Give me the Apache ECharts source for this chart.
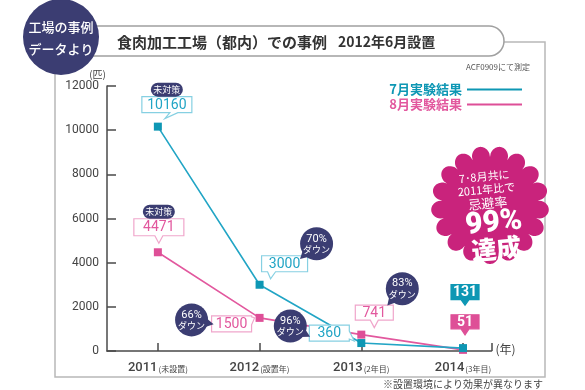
<!DOCTYPE html>
<html><head><meta charset="utf-8">
<script src="https://cdn.jsdelivr.net/npm/echarts@6/dist/echarts.min.js"></script>
<style>html,body{margin:0;padding:0;background:#fff}#c{width:585px;height:390px}</style>
</head><body><div id="c"></div>
<script>
// ---- data ----
const years = [2011, 2012, 2013, 2014];
const yearNotes = ['(未設置)', '(設置年)', '(2年目)', '(3年目)'];
const seriesNames = ['7月実験結果', '8月実験結果'];
const julyValues = [10160, 3000, 360, 131];
const augValues = [4471, 1500, 741, 51];
const julyReduction = [null, '70%', '96%', null];
const augReduction = [null, '66%', '83%', null];
const baselineTag = '未対策';
const yTicks = [0, 2000, 4000, 6000, 8000, 10000, 12000];

// ---- styles ----
const TEAL = '#22a5c5', TEAL_MK = '#0e97b4', TEAL_LT = '#86d0e2';
const PINK = '#e2589e', PINK_MK = '#de4f97', PINK_LT = '#f0a6cb';
const NAVY = '#3b3d72';
const JP = '"Noto Sans CJK JP", "Noto Sans", sans-serif';
const NUM = 'Roboto, "Noto Sans", sans-serif';

const chart = echarts.init(document.getElementById('c'), null, {renderer: 'canvas'});

const axisLineStyle = {color: '#4a4a4a', width: 1.5};
const option = {
  animation: false,
  grid: {left: 107, right: 93.5, top: 86, bottom: 39},
  legend: {
    orient: 'vertical', right: 58, top: 78, align: 'right', itemGap: 2,
    icon: 'rect', itemWidth: 55, itemHeight: 2,
    textStyle: {fontFamily: JP, fontSize: 13, fontWeight: 'bold'},
    data: [
      {name: seriesNames[0], textStyle: {color: TEAL_MK}},
      {name: seriesNames[1], textStyle: {color: PINK}}
    ]
  },
  xAxis: {
    type: 'value', min: 2010.5, max: 2014.28,
    axisLine: {show: true, lineStyle: axisLineStyle},
    axisTick: {show: true, inside: true, length: 8, lineStyle: axisLineStyle, customValues: years.concat([2014.28])},
    splitLine: {show: false},
    axisLabel: {
      customValues: years, margin: 10,
      formatter: v => '{a|' + v + '}{b|' + yearNotes[years.indexOf(v)] + '}',
      rich: {
        a: {fontFamily: NUM, fontSize: 13, color: '#444', fontWeight: 500},
        b: {fontFamily: JP, fontSize: 8, color: '#444', padding: [2, 0, 0, 1]}
      }
    }
  },
  yAxis: {
    type: 'value', min: yTicks[0], max: yTicks[yTicks.length - 1], interval: 2000,
    axisLine: {show: true, lineStyle: axisLineStyle},
    axisTick: {show: true, inside: true, length: 9, lineStyle: axisLineStyle},
    splitLine: {show: false},
    axisLabel: {fontFamily: NUM, fontSize: 12, color: '#444', margin: 8, formatter: v => String(v)}
  },
  series: [
    {
      name: seriesNames[1], type: 'line', symbol: 'rect', symbolSize: 8,
      lineStyle: {color: PINK, width: 1.6}, itemStyle: {color: PINK_MK},
      data: years.map((y, i) => [y, augValues[i]]), z: 3
    },
    {
      name: seriesNames[0], type: 'line', symbol: 'rect', symbolSize: 8,
      lineStyle: {color: TEAL, width: 1.6}, itemStyle: {color: TEAL_MK},
      data: years.map((y, i) => [y, julyValues[i]]), z: 4
    }
  ]
};
chart.setOption(option);

// ---- annotations placed relative to data points ----
function px(x, y) { return chart.convertToPixel({gridIndex: 0}, [x, y]); }

const julyCallouts = [
  {dx: 9, dy: -22, w: 50, h: 16, side: 'bottom', bx: 7, tip: [7, -8]},
  {dx: 25, dy: -21, w: 46, h: 16, side: 'bottom', bx: -13, tip: [11, -6]},
  {dx: -32, dy: -10, w: 40, h: 16, side: 'right', bx: 2, tip: [-7, -2]},
  {dx: 2, dy: -56, w: 28, h: 15, side: 'bottom', bx: 0, tip: [2, -43], filled: true}
];
const augCallouts = [
  {dx: 1, dy: -25, w: 50, h: 17, side: 'bottom', bx: 0, tip: [1, -9]},
  {dx: -28, dy: 6, w: 40, h: 16, side: 'right', bx: -3, tip: [-5, 0]},
  {dx: 13, dy: -22, w: 38, h: 15, side: 'bottom', bx: 0, tip: [13, -7]},
  {dx: 2, dy: -28, w: 28, h: 14, side: 'bottom', bx: 0, tip: [2, -15], filled: true}
];
const julyBadges = [null, {dx: 57, dy: -41, ang: 2.4}, {dx: -71, dy: -17, ang: 0.5}, null];
const augBadges = [null, {dx: -68, dy: 2, ang: 0.2}, {dx: 41, dy: -46, ang: 2.3}, null];

function calloutPoints(cx, cy, w, h, side, b, tx, ty) {
  const x0 = cx - w / 2, x1 = cx + w / 2, y0 = cy - h / 2, y1 = cy + h / 2;
  const hw = 4;
  if (side === 'bottom') {
    const bx = cx + b;
    return [[x0, y0], [x1, y0], [x1, y1], [bx + hw, y1], [tx, ty], [bx - hw, y1], [x0, y1]];
  }
  const by = cy + b;
  return [[x0, y0], [x1, y0], [x1, by - hw], [tx, ty], [x1, by + hw], [x1, y1], [x0, y1]];
}

const g = [];
function addSeries(values, callouts, badges, reductions, col, light, mk) {
  values.forEach((v, i) => {
    const p = px(years[i], v);
    const c = callouts[i];
    const cx = p[0] + c.dx, cy = p[1] + c.dy;
    g.push({
      type: 'polygon', z: 50,
      shape: {points: calloutPoints(cx, cy, c.w, c.h, c.side, c.bx, p[0] + c.tip[0], p[1] + c.tip[1])},
      style: {fill: c.filled ? mk : '#fff', stroke: c.filled ? mk : light, lineWidth: 1.2}
    });
    g.push({
      type: 'text', z: 51, x: cx, y: cy + 0.5,
      style: {text: String(v), fill: c.filled ? '#fff' : col, font: `${c.filled ? 'bold ' : ''}14px ${NUM}`,
              align: 'center', verticalAlign: 'middle'}
    });
    if (i === 0) {
      g.push({
        type: 'rect', z: 52,
        shape: {x: cx - 16, y: cy - c.h / 2 - 14, width: 32, height: 14, r: 7},
        style: {fill: NAVY}
      });
      g.push({
        type: 'text', z: 53, x: cx, y: cy - c.h / 2 - 7,
        style: {text: baselineTag, fill: '#fff', font: `9px ${JP}`, align: 'center', verticalAlign: 'middle'}
      });
    }
    const bd = badges[i];
    if (bd) {
      const bx = p[0] + bd.dx, by = p[1] + bd.dy, r = 16.5;
      const a = bd.ang;
      const tx = bx + Math.cos(a) * (r + 6), ty = by + Math.sin(a) * (r + 6);
      const a1 = a - 0.35, a2 = a + 0.35;
      g.push({
        type: 'polygon', z: 54,
        shape: {points: [[bx + Math.cos(a1) * (r - 2), by + Math.sin(a1) * (r - 2)], [tx, ty], [bx + Math.cos(a2) * (r - 2), by + Math.sin(a2) * (r - 2)]]},
        style: {fill: NAVY}
      });
      g.push({type: 'circle', z: 54, shape: {cx: bx, cy: by, r: r}, style: {fill: NAVY}});
      g.push({
        type: 'text', z: 55, x: bx, y: by - 5,
        style: {text: reductions[i], fill: '#fff', font: `11px ${NUM}`, align: 'center', verticalAlign: 'middle'}
      });
      g.push({
        type: 'text', z: 55, x: bx, y: by + 6,
        style: {text: 'ダウン', fill: '#fff', font: `9px ${JP}`, align: 'center', verticalAlign: 'middle'}
      });
    }
  });
}
addSeries(augValues, augCallouts, augBadges, augReduction, PINK, PINK_LT, PINK_MK);
addSeries(julyValues, julyCallouts, julyBadges, julyReduction, TEAL, TEAL_LT, TEAL_MK);

// frame & header
g.push({type: 'rect', z: 0, shape: {x: 55, y: 42, width: 490, height: 335}, style: {fill: 'none', stroke: '#b8b8b8', lineWidth: 1.5}});
g.push({type: 'rect', z: 10, shape: {x: 70, y: 26, width: 434, height: 30, r: 15}, style: {fill: '#fff', stroke: '#a0a0a0', lineWidth: 1.5}});
g.push({type: 'text', z: 11, x: 117, y: 42, style: {text: '食肉加工工場（都内）での事例', fill: '#333', font: `bold 15px ${JP}`, verticalAlign: 'middle'}});
g.push({type: 'text', z: 11, x: 338, y: 42, style: {text: '2012年6月設置', fill: '#333', font: `bold 14px ${JP}`, verticalAlign: 'middle'}});
g.push({type: 'circle', z: 12, shape: {cx: 61, cy: 37, r: 38}, style: {fill: NAVY}});
g.push({type: 'text', z: 13, x: 61, y: 27, style: {text: '工場の事例', fill: '#fff', font: `500 13px ${JP}`, align: 'center', verticalAlign: 'middle'}});
g.push({type: 'text', z: 13, x: 61, y: 49, style: {text: 'データより', fill: '#fff', font: `500 13px ${JP}`, align: 'center', verticalAlign: 'middle'}});
g.push({type: 'text', z: 11, x: 530, y: 67, style: {text: 'ACF0909にて測定', fill: '#555', font: `8px ${JP}`, align: 'right', verticalAlign: 'middle'}});
g.push({type: 'text', z: 11, x: 106, y: 74, style: {text: '(匹)', fill: '#444', font: `10px ${JP}`, align: 'right', verticalAlign: 'middle'}});
const endPx = px(2014.28, 0);
g.push({type: 'text', z: 11, x: endPx[0] + 4, y: endPx[1] - 2, style: {text: '(年)', fill: '#444', font: `12px ${JP}`, verticalAlign: 'middle'}});
g.push({type: 'text', z: 11, x: 543, y: 384, style: {text: '※設置環境により効果が異なります', fill: '#444', font: `10px ${JP}`, align: 'right', verticalAlign: 'middle'}});

// starburst
(function () {
  const cx = 490, cy = 205, rIn = 48, rOut = 59, n = 17, steps = 510;
  const pts = [];
  for (let k = 0; k < steps; k++) {
    const t = (k / steps) * Math.PI * 2;
    const r = rIn + (rOut - rIn) * Math.sqrt(Math.abs(Math.sin(n * t / 2)));
    pts.push([cx + Math.cos(t - Math.PI / 2) * r, cy + Math.sin(t - Math.PI / 2) * r]);
  }
  g.push({type: 'polygon', z: 60, shape: {points: pts}, style: {fill: '#c9237c'}});
  g.push({
    type: 'group', z: 61, x: cx, y: cy, rotation: 0.1,
    children: [
      {type: 'text', z: 61, x: -3, y: -29, style: {text: '7･8月共に', fill: '#fff', font: `11px ${JP}`, align: 'center', verticalAlign: 'middle'}},
      {type: 'text', z: 61, x: -2, y: -16, style: {text: '2011年比で', fill: '#fff', font: `11px ${JP}`, align: 'center', verticalAlign: 'middle'}},
      {type: 'text', z: 61, x: -2, y: -2, style: {text: '忌避率', fill: '#fff', font: `13px ${JP}`, align: 'center', verticalAlign: 'middle'}},
      {type: 'text', z: 61, x: 2, y: 19, style: {text: '99%', fill: '#fff', font: `900 30px ${NUM}`, align: 'center', verticalAlign: 'middle'}},
      {type: 'text', z: 61, x: 2, y: 44, style: {text: '達成', fill: '#fff', font: `900 25px ${JP}`, align: 'center', verticalAlign: 'middle'}}
    ]
  });
})();

chart.setOption({graphic: {elements: g}});
</script></body></html>
